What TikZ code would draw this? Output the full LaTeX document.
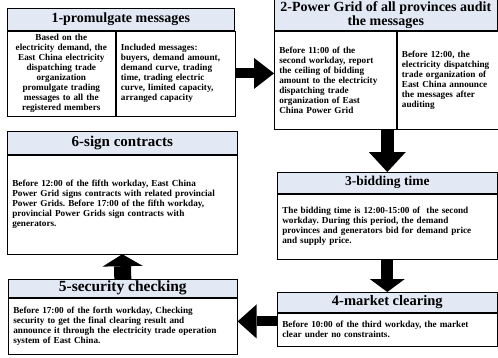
\documentclass[tikz,border=0pt]{standalone}
\usepackage{fontspec}
\setmainfont{Liberation Serif}
\usetikzlibrary{arrows.meta}
\definecolor{headblue}{RGB}{226,233,245}
\frenchspacing

\tikzset{
  head/.style={draw, fill=headblue, anchor=north west, inner sep=0pt, align=center},
  body/.style={draw, anchor=north west, inner xsep=5pt, inner ysep=2pt, align=left,
    font=\fontsize{9.2}{10}\selectfont\bfseries},
  bigarrow/.style 2 args={line width=11pt, -{Triangle[length=#1, width=#2, line width=0pt]}}
}

\begin{document}
\begin{tikzpicture}[x=1pt, y=-1pt, line width=0.6pt]
	\useasboundingbox (0,0) rectangle (498,357);

	% 1 - promulgate
	\node[head, minimum width=227pt, minimum height=22pt, font=\fontsize{14}{15}\selectfont\bfseries]
		(h1) at (7,8) {1-promulgate messages};
	\node[body, text width=98pt, minimum height=85pt, align=center] (b1l) at (h1.south west)
		{Based on the\\ electricity demand, the\\ East China electricity\\ dispatching trade\\
		organization\\ promulgate trading\\ messages to all the\\ registered members};
	\node[body, text width=109pt, minimum height=85pt] (b1r) at (b1l.north east)
		{Included messages:\\ buyers, demand amount,\\ demand curve, trading\\
		time, trading electric\\ curve, limited capacity,\\ arranged capacity};

	% 2 - audit
	\node[head, minimum width=223pt, minimum height=31pt, font=\fontsize{14}{14}\selectfont\bfseries]
		(h2) at (274,-1) {2-Power Grid of all provinces audit\\ the messages};
	\node[body, text width=112pt, minimum height=98pt] (b2l) at (h2.south west)
		{Before 11:00 of the\\ second workday, report\\ the ceiling of bidding\\
		amount to the electricity\\ dispatching trade\\ organization of East\\ China Power Grid};
	\node[body, text width=91pt, minimum height=98pt] (b2r) at (b2l.north east)
		{Before 12:00, the\\ electricity dispatching\\ trade organization of\\
		East China announce\\ the messages after\\ auditing};

	% 3 - bidding
	\node[head, minimum width=220pt, minimum height=21pt, font=\fontsize{13.5}{14}\selectfont\bfseries]
		(h3) at (277,172) {3-bidding time};
	\node[body, text width=210pt, minimum height=65pt] (b3) at (h3.south west)
		{The bidding time is 12:00-15:00 of~ the second\\ workday. During this period, the demand\\
		provinces and generators bid for demand price\\ and supply price.};

	% 4 - clearing
	\node[head, minimum width=220pt, minimum height=20pt, font=\fontsize{14.5}{15}\selectfont\bfseries]
		(h4) at (277,292) {4-market clearing};
	\node[body, text width=210pt, minimum height=33pt] (b4) at (h4.south west)
		{Before 10:00 of the third workday, the market\\ clear under no constraints.};

	% 5 - security
	\node[head, minimum width=229pt, minimum height=18pt, font=\fontsize{15.5}{16}\selectfont\bfseries]
		(h5) at (8,279) {5-security checking};
	\node[body, text width=219pt, minimum height=56pt] (b5) at (h5.south west)
		{Before 17:00 of the forth workday, Checking\\ security to get the final clearing result and\\
		announce it through the electricity trade operation\\ system of East China.};

	% 6 - contracts
	\node[head, minimum width=230pt, minimum height=23pt, font=\fontsize{15}{16}\selectfont\bfseries]
		(h6) at (7,131) {6-sign contracts};
	\node[body, text width=220pt, minimum height=99pt] (b6) at (h6.south west)
		{Before 12:00 of the fifth workday, East China\\ Power Grid signs contracts with related provincial\\
		Power Grids. Before 17:00 of the fifth workday,\\ provincial Power Grids sign contracts with\\ generators.};

	% Flow
	\draw[bigarrow={20pt}{31pt}, line width=10pt] (b1r.east) -- (b2l.west |- b1r.east);
	\draw[bigarrow={20pt}{37pt}, line width=13pt] (h3.north |- b2l.south) -- (h3.north);
	\draw[bigarrow={13pt}{35pt}, line width=12pt] (b3.south) -- (h4.north);
	\draw[bigarrow={19pt}{34pt}, line width=10pt] ([yshift=8pt]b4.west) -- ([yshift=8pt]b4.west -| b5.east);
	\draw[bigarrow={12pt}{40pt}, line width=17pt] (h5.north) -- (b6.south);
\end{tikzpicture}
\end{document}
